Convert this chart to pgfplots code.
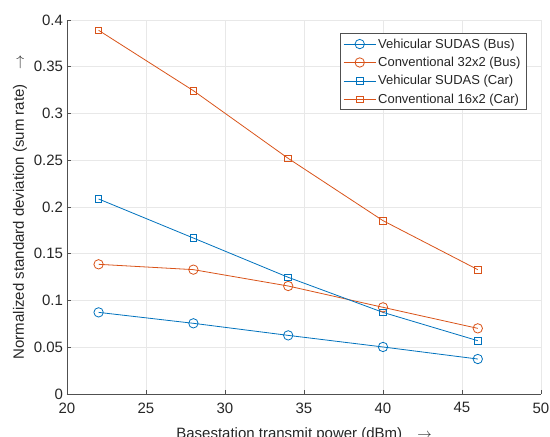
\documentclass[border=0pt]{standalone}
\usepackage{fontspec}
\setmainfont{Liberation Sans}
\usepackage{pgfplots}
\pgfplotsset{compat=1.18}
\definecolor{mblue}{RGB}{0,114,189}
\definecolor{morange}{RGB}{217,83,25}
\definecolor{mtext}{RGB}{38,38,38}
\definecolor{maxis}{RGB}{80,80,80}
\definecolor{mgrid}{RGB}{232,232,232}
\begin{document}
\begin{tikzpicture}
\begin{axis}[
  at={(0pt,0pt)}, anchor=south west,
  scale only axis, width=474pt, height=374pt,
  xmin=20, xmax=50, ymin=0, ymax=0.4,
  xtick={20,25,30,35,40,45,50},
  xticklabels={20,25,30,35,40,45,50},
  ytick={0,0.05,0.1,0.15,0.2,0.25,0.3,0.35,0.4},
  yticklabels={0,0.05,0.1,0.15,0.2,0.25,0.3,0.35,0.4},
  /pgf/number format/assume math mode=true,
  axis lines=left,
  x axis line style={-, maxis, line width=0.6pt},
  y axis line style={-, maxis, line width=0.6pt},
  tick align=inside,
  major tick length=4.5pt,
  tick style={maxis, line width=0.6pt},
  grid=major,
  grid style={mgrid, line width=0.6pt},
  ticklabel style={font=\fontsize{15}{18}\selectfont, text=mtext},
  xticklabel style={yshift=-5pt},
  yticklabel style={xshift=-0.5pt},
  xlabel={Basestation transmit power (dBm)\quad$\rightarrow$},
  ylabel={Normalized standard deviation (sum rate)\quad$\rightarrow$},
  label style={font=\fontsize{15}{18}\selectfont, text=mtext},
  xlabel style={at={(rel axis cs:0.5,0)}, anchor=base, yshift=-44.5pt},
  ylabel style={at={(rel axis cs:0,0.5)}, anchor=base, yshift=43pt},
  legend style={at={(rel axis cs:0.969,0.9644)}, anchor=north east,
    font=\fontsize{13}{15}\selectfont, text=mtext, draw=maxis,
    line width=0.6pt, fill=white, inner xsep=3.5pt, inner ysep=3pt, row sep=3.5pt,
    cells={anchor=west}},
  legend image code/.code={
    \draw[mark repeat=2, mark phase=2, #1] plot coordinates {(0pt,0pt) (16pt,0pt) (32pt,0pt)};
  },
  every axis plot/.append style={line width=0.8pt},
]
\addplot[mblue, mark=o, mark size=4.7pt, mark options={solid}]
  coordinates {(22,0.0873) (28,0.0756) (34,0.0627) (40,0.0503) (46,0.0374)};
\addlegendentry{Vehicular SUDAS (Bus)}
\addplot[morange, mark=o, mark size=4.7pt, mark options={solid}]
  coordinates {(22,0.1387) (28,0.1330) (34,0.1155) (40,0.0927) (46,0.0702)};
\addlegendentry{Conventional 32x2 (Bus)}
\addplot[mblue, mark=square, mark size=3.3pt, mark options={solid}]
  coordinates {(22,0.2086) (28,0.1668) (34,0.1248) (40,0.0873) (46,0.0570)};
\addlegendentry{Vehicular SUDAS (Car)}
\addplot[morange, mark=square, mark size=3.3pt, mark options={solid}]
  coordinates {(22,0.3890) (28,0.3244) (34,0.2520) (40,0.1854) (46,0.1330)};
\addlegendentry{Conventional 16x2 (Car)}
\end{axis}
\pgfresetboundingbox
\useasboundingbox (-67pt,-43pt) rectangle (483pt,394pt);
\end{tikzpicture}
\end{document}
